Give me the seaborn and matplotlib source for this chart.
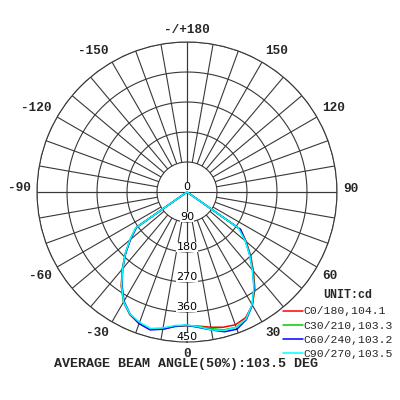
import numpy as np
import pandas as pd
import matplotlib
matplotlib.use("Agg")
import matplotlib.pyplot as plt
import matplotlib.transforms as mtransforms
import seaborn as sns

# --- Data ---
GAMMA = [-90, -85, -80, -75, -70, -65, -60, -55, -50, -45, -40, -35, -30, -25, -20, -15, -10, -5,
         0, 5, 10, 15, 20, 25, 30, 35, 40, 45, 50, 55, 60, 65, 70, 75, 80, 85, 90]
ZEROS = [0] * 7

C0_180 = ZEROS + [186, 222, 262, 302, 344, 381, 406, 420, 427, 418, 405,
                  401, 404, 412, 420, 424, 416, 392, 355, 310, 270, 232, 197] + ZEROS
C30_210 = ZEROS + [187, 223, 262, 301, 343, 381, 405, 418, 426, 416, 404,
                   400, 405, 416, 428, 432, 420, 392, 352, 308, 268, 230, 193] + ZEROS
C60_240 = ZEROS + [185, 222, 260, 300, 340, 378, 404, 420, 428, 418, 404,
                   400, 408, 420, 434, 438, 422, 391, 351, 306, 266, 229, 195] + ZEROS
C90_270 = ZEROS + [188, 224, 262, 300, 342, 380, 404, 416, 424, 414, 402,
                   399, 406, 420, 430, 432, 420, 390, 350, 305, 265, 228, 188] + ZEROS

PLANES = ["C0/180,104.1", "C30/210,103.3", "C60/240,103.2", "C90/270,103.5"]
COLORS = ["#ff0000", "#00cc00", "#0000ff", "#00ffff"]

RINGS = [90, 180, 270, 360, 450]
RING_LABELS = [0, 90, 180, 270, 360, 450]
SPOKES = list(range(0, 360, 10))
ANGLE_TICKS = [0, 30, 60, 90, 120, 150, 180, 210, 240, 270, 300, 330]
ANGLE_LABELS = ["0", "30", "60", "90", "120", "150", "-/+180",
                "-150", "-120", "-90", "-60", "-30"]
UNIT = "UNIT:cd"
TITLE = "AVERAGE BEAM ANGLE(50%):103.5 DEG"

rows = []
for name, vals in zip(PLANES, [C0_180, C30_210, C60_240, C90_270]):
    for g, v in zip(GAMMA, vals):
        rows.append({"theta": np.deg2rad(g), "cd": v, "plane": name})
df = pd.DataFrame(rows)

sns.set_style("white")
mono = ["Liberation Mono", "DejaVu Sans Mono"]
grid_col = "#383838"

fig = plt.figure(figsize=(4, 4), dpi=100)
ax = fig.add_axes([0.0925, 0.145, 0.75, 0.75], projection="polar")
ax.set_theta_zero_location("S")
ax.set_theta_direction(1)
ax.set_ylim(0, 450)
ax.grid(False)

# spokes: short ones start at the first ring, main axes go through the centre
spk = np.deg2rad(SPOKES)
ax.vlines(spk, RINGS[0], RINGS[-1], colors=grid_col, lw=0.8, zorder=1)
ax.vlines(np.deg2rad([0, 90, 180, 270]), 0, RINGS[-1], colors=grid_col, lw=0.8, zorder=1)
ring_t = np.linspace(0, 2 * np.pi, 361)
for r in RINGS:
    ax.plot(ring_t, [r] * len(ring_t), color=grid_col, lw=0.8, zorder=1)
ax.spines["polar"].set_color(grid_col)
ax.spines["polar"].set_linewidth(0.8)

ax.set_yticks([])
ax.set_xticks([])

# angle labels sit a few px outside the rim, aligned away from the centre
gap = 6 * 0.72  # px -> pt
for a, lab in zip(ANGLE_TICKS, ANGLE_LABELS):
    th = np.deg2rad(a)
    s, c = np.sin(th), np.cos(th)
    ha = "left" if s > 0.01 else ("right" if s < -0.01 else "center")
    va = "top" if c > 0.01 else ("bottom" if c < -0.01 else "center")
    dy = -gap * c + (3.5 * 0.72 if abs(c) < 0.01 else 0)
    off = mtransforms.ScaledTranslation(gap * s / 72, dy / 72, fig.dpi_scale_trans)
    ax.text(th, RINGS[-1], lab, ha=ha, va=va, fontfamily=mono, fontweight="bold",
            fontsize=9.2, transform=ax.transData + off, clip_on=False)

for r in RING_LABELS:
    ax.text(0, r, str(r), ha="center", va="bottom", fontsize=8, color="black",
            bbox=dict(facecolor="white", edgecolor="none", pad=0), zorder=1.5)

sns.lineplot(data=df, x="theta", y="cd", hue="plane", palette=COLORS, sort=False,
             estimator=None, lw=1.1, ax=ax, zorder=3)
ax.set_xlabel("")
ax.set_ylabel("")

handles, labels = ax.get_legend_handles_labels()
ax.get_legend().remove()
fig.legend(handles, labels, loc="upper left",
           bbox_to_anchor=(283 / 400, 1 - 306.5 / 400), frameon=False,
           prop={"family": mono, "size": 8.2}, handlelength=1.75,
           handletextpad=0.05, labelspacing=0.38, borderpad=0, borderaxespad=0)
fig.text(347.5 / 400, 1 - 295 / 400, UNIT, ha="center", va="center",
         fontfamily=mono, fontweight="bold", fontsize=8.4)

fig.text(0.466, 1 - 364 / 400, TITLE, ha="center", va="center",
         fontfamily=mono, fontweight="bold", fontsize=9.6)

fig.savefig("out.png", dpi=100, facecolor="white")
